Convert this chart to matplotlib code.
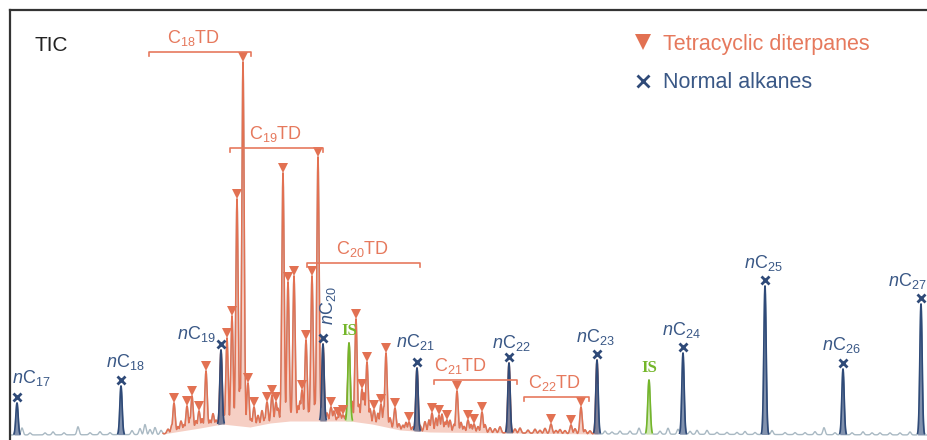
import numpy as np
import matplotlib
matplotlib.use("Agg")
import matplotlib.pyplot as plt
from matplotlib.lines import Line2D

plt.rcParams['font.family'] = ['Liberation Sans', 'DejaVu Sans']
plt.rcParams['mathtext.fontset'] = 'custom'
plt.rcParams['mathtext.rm'] = 'Liberation Sans'
plt.rcParams['mathtext.it'] = 'Liberation Sans:italic'
plt.rcParams['mathtext.bf'] = 'Liberation Sans:bold'

# ---------------- data ----------------
# retention position (arbitrary units) and intensity (arbitrary units)
floor_x = [10, 160, 175, 200, 222, 250, 270, 290, 320, 350, 372, 400, 430, 600, 930]
floor_y = [5, 5.5, 8, 12, 16, 13, 17, 19, 19, 19, 16, 10, 8, 6, 5]

# normal alkanes
alk_num = ['17', '18', '19', '20', '21', '22', '23', '24', '25', '26', '27']
alk_x = [17, 121, 221, 323, 417, 509, 597, 683, 765, 843, 921]
alk_top = [37, 54, 90, 96, 72, 77, 80, 87, 154, 71, 136]

# tetracyclic diterpanes (marked peaks)
td_x = [174, 187, 192, 199, 206, 227, 232, 237, 243, 248, 254, 267, 272, 276,
        283, 288, 294, 302, 306, 312, 318, 331, 338, 343, 356, 362, 367, 374,
        381, 386, 395, 409, 432, 439, 447, 457, 468, 474, 482, 551, 571, 581]
td_top = [37, 34, 44, 29, 69, 102, 124, 241, 378, 57, 33, 38, 45, 38,
          267, 158, 164, 50, 100, 164, 283, 33, 23, 25, 121, 51, 78, 30,
          36, 87, 32, 18, 27, 25, 20, 49, 20, 16, 28, 16, 15, 33]

# internal standards
is_x = [349, 649]
is_top = [97, 60]

# minor unlabelled peaks: position, height above baseline
minor_x = [22, 30, 45, 53, 64, 78, 90, 100, 110, 132, 140, 145, 150, 155, 161,
           168, 172, 178, 181, 184, 190, 196, 202, 210, 213, 216, 224, 240, 246,
           251, 258, 262, 265, 278, 281, 291, 298, 300, 309, 315, 327, 334, 340,
           346, 352, 359, 364, 370, 378, 384, 390, 399, 403, 406, 413, 420, 425,
           429, 436, 442, 445, 450, 454, 461, 464, 471, 478, 485, 490, 495, 500,
           515, 520, 528, 535, 540, 545, 556, 560, 565, 575, 585, 590,
           605, 612, 620, 630, 639, 650, 660, 668, 678, 690, 697, 707, 717, 727,
           737, 745, 755, 772, 785, 795, 805, 815, 824, 835, 852, 863, 872, 880,
           890, 900, 910]
minor_h = [7, 2, 2, 3, 2, 8, 2, 3, 2, 4, 6, 10, 5, 7, 4,
           4, 8, 5, 10, 6, 12, 8, 9, 6, 12, 5, 10, 40, 12,
           8, 10, 14, 6, 14, 8, 9, 15, 20, 10, 18, 8, 10, 8,
           6, 20, 18, 30, 15, 12, 20, 10, 6, 5, 8, 4, 6, 10,
           12, 14, 18, 10, 12, 8, 10, 6, 8, 6, 8, 5, 4, 6,
           4, 5, 3, 4, 3, 5, 3, 4, 3, 5, 4, 3,
           3, 2, 3, 3, 6, 3, 3, 6, 5, 3, 4, 4, 2, 2,
           2, 3, 2, 4, 2, 2, 2, 3, 7, 2, 2, 3, 2, 2,
           2, 2, 3]

# bracket groups
grp_num = ['18', '19', '20', '21', '22']
grp_x0 = [149, 230, 307, 434, 524]
grp_x1 = [251, 323, 420, 517, 589]
grp_y = [388, 292, 177, 60, 43]
grp_label_x = [193, 275, 362, 460, 554]

# ---------------- colours ----------------
C_OR = '#e27152'
C_ORT = '#e6795d'
C_PINK = '#f6cfc4'
C_BLUE = '#2f4a78'
C_BLUET = '#3a5886'
C_GRAY = '#a9b9c3'
C_GREEN = '#74b62a'
C_GREENF = '#cfe6b2'

fig = plt.figure(figsize=(9.28, 4.40), dpi=100)
ax = fig.add_axes([10 / 928, -10 / 440, 930 / 928, 440 / 440])
ax.set_xlim(10, 940)
ax.set_ylim(-10, 430)
ax.set_xticks([])
ax.set_yticks([])
ax.spines['right'].set_visible(False)
ax.spines['bottom'].set_visible(False)
for s in ['left', 'top']:
    ax.spines[s].set_color('#333333')
    ax.spines[s].set_linewidth(1.6)

# ---------------- build trace ----------------
x = np.arange(10, 931, 0.2)
floor = np.interp(x, floor_x, floor_y)


def peak(px, amp, w):
    return amp * np.exp(-0.5 * ((x - px) / w) ** 2)


sig = np.zeros_like(x)
for px, h in zip(minor_x, minor_h):
    sig = np.maximum(sig, peak(px, h, 1.1))
for px, top in zip(td_x, td_top):
    sig = np.maximum(sig, peak(px, top - np.interp(px, floor_x, floor_y), 1.15))

alk_curves = [peak(px, top - np.interp(px, floor_x, floor_y), 1.15)
              for px, top in zip(alk_x, alk_top)]
is_curves = [peak(px, top - np.interp(px, floor_x, floor_y), 1.2)
             for px, top in zip(is_x, is_top)]
for c in alk_curves + is_curves:
    sig = np.maximum(sig, c)

trace = floor + sig

# gray full trace
ax.plot(x, trace, color=C_GRAY, lw=1.0, zorder=2)

# TD region
td_mask = (x >= 163) & (x <= 598)
ax.fill_between(x, floor, trace, where=td_mask, color=C_PINK, lw=0, zorder=1)
ax.plot(x, np.where(td_mask, trace, np.nan), color=C_OR, lw=1.1, zorder=3)

# alkane peaks (own peak shape only)
for px, c in zip(alk_x, alk_curves):
    m = (np.abs(x - px) <= 4) & (c > 1.0)
    ax.fill_between(x, floor, floor + c, where=m, color=C_BLUE, alpha=0.6, lw=0, zorder=4)
    ax.plot(x[m], (floor + c)[m], color=C_BLUE, lw=1.2, zorder=5)

# internal standards
for px, c in zip(is_x, is_curves):
    m = (np.abs(x - px) <= 4) & (c > 1.0)
    ax.fill_between(x, floor, floor + c, where=m, color=C_GREENF, lw=0, zorder=4)
    ax.plot(x[m], (floor + c)[m], color=C_GREEN, lw=1.2, zorder=5)

# markers
ax.plot(td_x, np.array(td_top) + 5, 'v', color=C_OR, ms=7.5, mew=0, zorder=6)
ax.plot(alk_x, np.array(alk_top) + 6, 'x', color=C_BLUE, ms=6, mew=2, zorder=6)

# alkane labels: (dx, dy of baseline above marker, ha, rotation)
alk_lab = [(14, 14, 'center', 0), (4, 13, 'center', 0), (-5, 5, 'right', 0),
           (5, 13, 'center', 90), (-2, 15, 'center', 0), (2, 9, 'center', 0),
           (-2, 12, 'center', 0), (-2, 12, 'center', 0), (-2, 12, 'center', 0),
           (-2, 13, 'center', 0), (-14, 12, 'center', 0)]
for num, px, top, (dx, dy, ha, rot) in zip(alk_num, alk_x, alk_top, alk_lab):
    lab = r'$\mathit{n}$C$_{' + num + '}$'
    if rot == 90:
        ax.text(px + dx, top + 6 + dy, lab, rotation=90, ha='center', va='bottom',
                fontsize=13, color=C_BLUET, zorder=7)
    else:
        ax.text(px + dx, top + 6 + dy, lab, ha=ha, va='baseline',
                fontsize=13, color=C_BLUET, zorder=7)

# IS labels
for px, top in zip(is_x, is_top):
    ax.text(px, top + 4, 'IS', ha='center', va='bottom', fontsize=12,
            fontfamily='Liberation Serif', fontweight='bold', color=C_GREEN, zorder=7)

# group brackets
for num, x0, x1, gy, lx in zip(grp_num, grp_x0, grp_x1, grp_y, grp_label_x):
    ax.plot([x0, x0, x1, x1], [gy - 4, gy, gy, gy - 4], color=C_ORT, lw=1.2, zorder=6)
    ax.text(lx, gy + 9, r'C$_{' + num + '}$TD', ha='center', va='baseline',
            fontsize=13, color=C_ORT, zorder=7)

# TIC label
ax.text(35, 395, 'TIC', ha='left', va='center', fontsize=15, color='#222222')

# legend
handles = [Line2D([], [], ls='none', marker='v', color=C_OR, ms=11, mew=0),
           Line2D([], [], ls='none', marker='x', color=C_BLUE, ms=9, mew=2)]
leg = ax.legend(handles, ['Tetracyclic diterpanes', 'Normal alkanes'],
                loc='upper left', bbox_to_anchor=(603 / 930, 0.99),
                frameon=False, fontsize=15.5, labelspacing=0.82, handletextpad=0.4,
                handlelength=1.0, labelcolor=[C_ORT, C_BLUET])

fig.savefig('out.png', dpi=100)
